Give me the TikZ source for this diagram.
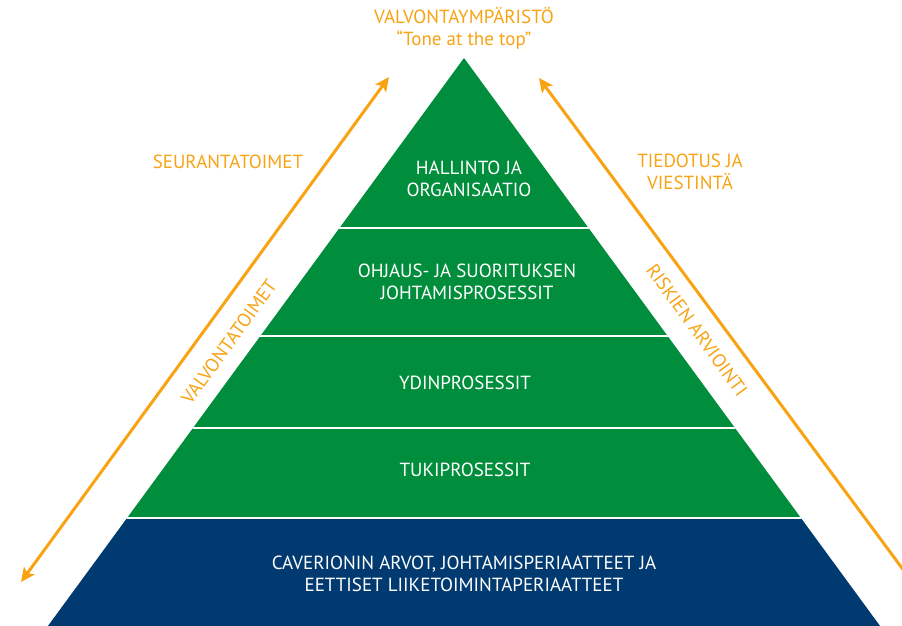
\documentclass[tikz,border=0pt]{standalone}
\usepackage{fontspec}
\setmainfont{PT Sans}
\usetikzlibrary{arrows.meta}

\definecolor{pyrgreen}{RGB}{0,142,60}
\definecolor{pyrblue}{RGB}{0,58,112}
\definecolor{pyrorange}{RGB}{247,163,20}

\begin{document}
\begin{tikzpicture}
            [x=1pt, y=-1pt,
            every node/.style={font=\fontsize{19}{22}\selectfont},
            layer/.style={
                text=white,
                align=center
            },
            side/.style={
                text=pyrorange,
                align=center
            },
            line/.style={
                draw=pyrorange, line width=3pt,
                -{Stealth[length=14pt, width=13pt, inset=3pt]}
            },
            twoway/.style={
                line,
                {Stealth[length=14pt, width=13pt, inset=3pt]}-{Stealth[length=14pt, width=13pt, inset=3pt]}
            },
            sep/.style={
                draw=white, line width=2pt
            }
            ]

            \useasboundingbox (0,0) rectangle (902,625);
            \clip (0,0) rectangle (902,625);

            % Pyramid layers
            \begin{scope}
                \clip (464,58) -- (946,716) -- (-18,716) -- cycle;
                \fill[pyrgreen] (0,50) rectangle (902,518);
                \fill[pyrblue] (0,518) rectangle (902,640);
                \foreach \y in {228, 335.5, 427.5, 518}{
                    \draw[sep] (0,\y) -- (902,\y);
                }
            \end{scope}

            % Layer texts
            \node[layer] (hallinto) at (469,179) {HALLINTO JA\\ORGANISAATIO};
            \node[layer] (ohjaus) at (467,282) {OHJAUS- JA SUORITUKSEN\\JOHTAMISPROSESSIT};
            \node[layer] (ydin) at (465,383) {YDINPROSESSIT};
            \node[layer] (tuki) at (465,470) {TUKIPROSESSIT};
            \node[layer] (arvot) at (464,574) {CAVERIONIN ARVOT, JOHTAMISPERIAATTEET JA\\EETTISET LIIKETOIMINTAPERIAATTEET};

            % Texts round the pyramid
            \node[side] (ymparisto) at (464,28) {VALVONTAYMPÄRISTÖ\\“Tone at the top”};
            \node[side] (seuranta) at (228,162) {SEURANTATOIMET};
            \node[side] (tiedotus) at (690,172) {TIEDOTUS JA\\VIESTINTÄ};
            \node[side, rotate=54] (valvonta) at (229,342) {VALVONTATOIMET};
            \node[side, rotate=-54] (riskit) at (697,330) {RISKIEN ARVIOINTI};

            % Arrows
            \coordinate (seurTop) at (389,77);
            \coordinate (seurBot) at (21,582);
            \coordinate (tiedTop) at (539,78);
            \coordinate (tiedBot) at (936,614);
            \draw[twoway] (seurBot) -- (seurTop);
            \draw[line] (tiedBot) -- (tiedTop);
\end{tikzpicture}
\end{document}
